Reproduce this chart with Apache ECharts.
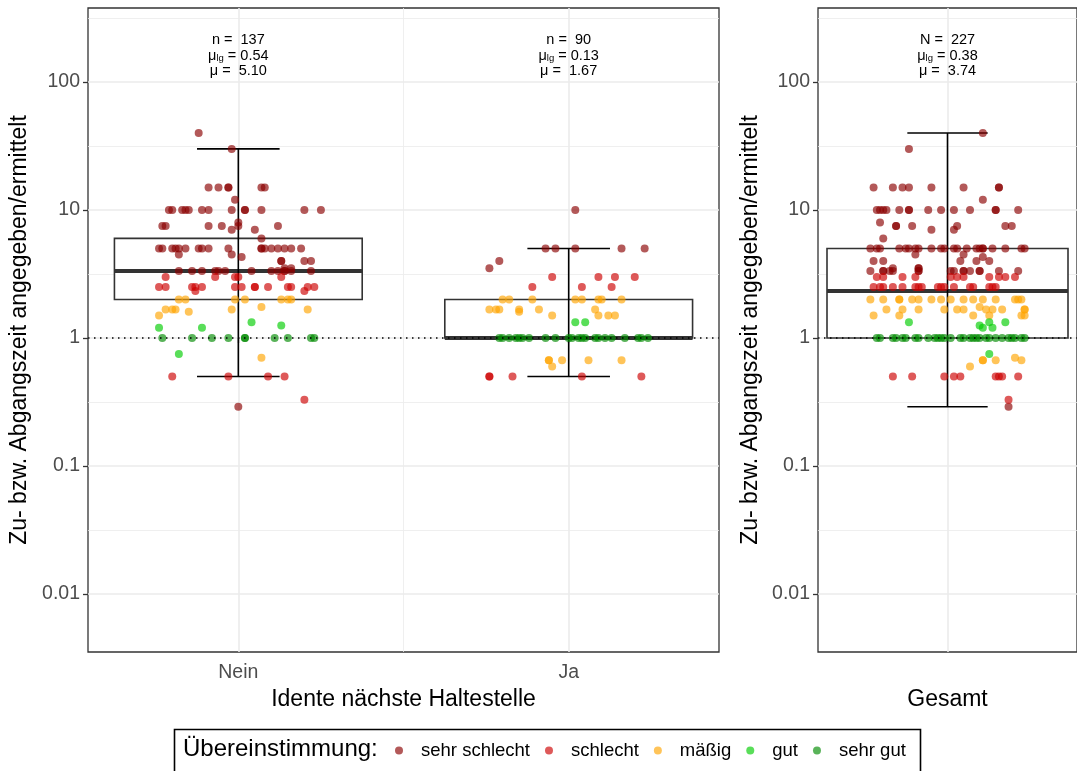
<!DOCTYPE html>
<html>
<head>
<meta charset="utf-8">
<script src="https://cdn.jsdelivr.net/npm/echarts@6/dist/echarts.min.js"></script>
<style>
  html, body { margin: 0; background: #fff; }
  #chart { width: 1077px; height: 771px; }
</style>
</head>
<body>
<div id="chart"></div>
<script>
const groups = ['Nein', 'Ja']
const classes = ['sehr schlecht', 'schlecht', 'mäßig', 'gut', 'sehr gut']
const classColors = ['#8B0000', '#CD0000', '#FFA500', '#00CC00', '#008B00']
const yTicks = [0.01, 0.1, 1, 10, 100]
const yTickLabels = ['0.01', '0.1', '1', '10', '100']
const yMinorTicks = [0.0316, 0.316, 3.16, 31.6, 316]
const refLine = 1

// box statistics: [untere Whisker, Q1, Median, Q3, obere Whisker]
const boxNein = [0.5, 2, 3.33, 6, 30]
const boxJa = [0.5, 1, 1, 2, 5]
const boxGesamt = [0.29, 1, 2.33, 5, 40]

const annN = ['n =  137', 'n =  90', 'N =  227']
const annMuLg = ['0.54', '0.13', '0.38']
const annMu = ['5.10', '1.67', '3.74']
const annAt = 160

// Punkte: [Jitter, Wert]
const neinSehrSchlecht = [
  [-0.12, 40], [-0.02, 30],
  [-0.09, 15], [-0.06, 15], [-0.03, 15], [-0.03, 15], [0.07, 15], [0.08, 15],
  [-0.01, 12],
  [-0.21, 10], [-0.20, 10], [-0.17, 10], [-0.16, 10], [-0.15, 10], [-0.11, 10], [-0.09, 10],
  [-0.02, 10], [0.02, 10], [0.02, 10], [0.07, 10], [0.20, 10], [0.25, 10],
  [0.00, 8],
  [-0.23, 7.5], [-0.22, 7.5], [-0.09, 7.5], [-0.05, 7.5], [0.12, 7.5], [0.00, 7.5],
  [-0.02, 7], [0.05, 7], [0.07, 6],
  [-0.24, 5], [-0.23, 5], [-0.20, 5], [-0.19, 5], [-0.18, 5], [-0.16, 5], [-0.12, 5], [-0.11, 5],
  [-0.09, 5], [-0.03, 5], [0.07, 5], [0.07, 5], [0.08, 5], [0.10, 5], [0.12, 5], [0.14, 5],
  [0.16, 5], [0.19, 5],
  [-0.18, 4.5], [-0.02, 4.5], [0.01, 4.3],
  [0.13, 4], [0.13, 4], [0.20, 4], [0.22, 4],
  [0.14, 3.5], [0.16, 3.5],
  [-0.18, 3.33], [-0.14, 3.33], [-0.11, 3.33], [-0.07, 3.33], [-0.06, 3.33], [-0.04, 3.33],
  [0.04, 3.33], [0.10, 3.33], [0.12, 3.33], [0.14, 3.33], [0.14, 3.33], [0.16, 3.33], [0.22, 3.33],
  [0.00, 0.29]
]
const neinSchlecht = [
  [-0.22, 3], [-0.07, 3], [-0.01, 3], [0.00, 3], [0.13, 3],
  [-0.24, 2.5], [-0.22, 2.5], [-0.14, 2.5], [-0.13, 2.5], [-0.11, 2.5], [-0.01, 2.5], [0.01, 2.5],
  [0.05, 2.5], [0.05, 2.5], [0.09, 2.5], [0.15, 2.5], [0.16, 2.5], [0.21, 2.5], [0.23, 2.5],
  [-0.13, 2.33], [0.20, 2.33],
  [-0.20, 0.5], [-0.03, 0.5], [0.09, 0.5], [0.14, 0.5],
  [0.20, 0.33]
]
const neinMaessig = [
  [-0.18, 2], [-0.16, 2], [-0.01, 2], [0.02, 2], [0.13, 2], [0.15, 2], [0.16, 2],
  [0.07, 1.75],
  [-0.22, 1.67], [-0.20, 1.67], [-0.19, 1.67], [-0.02, 1.67], [0.21, 1.67],
  [-0.15, 1.6], [-0.24, 1.5],
  [0.07, 0.7]
]
const neinGut = [[-0.24, 1.2], [-0.11, 1.2], [0.04, 1.33], [0.13, 1.25], [-0.18, 0.75]]
const neinSehrGut = [
  [-0.23, 1], [-0.14, 1], [-0.08, 1], [-0.03, 1], [0.02, 1], [0.02, 1], [0.11, 1], [0.15, 1],
  [0.22, 1], [0.23, 1]
]

const jaSehrSchlecht = [
  [0.02, 10], [-0.07, 5], [-0.04, 5], [0.02, 5], [0.16, 5], [0.23, 5], [-0.21, 4], [-0.24, 3.5]
]
const jaSchlecht = [
  [-0.05, 3], [0.09, 3], [0.14, 3], [0.20, 3], [-0.11, 2.5], [0.04, 2.5], [0.13, 2.5],
  [-0.24, 0.5], [-0.24, 0.5], [-0.17, 0.5], [0.04, 0.5], [0.22, 0.5]
]
const jaMaessig = [
  [-0.20, 2], [-0.18, 2], [-0.11, 2], [0.02, 2], [0.04, 2], [0.09, 2], [0.10, 2], [0.16, 2],
  [-0.24, 1.67], [-0.22, 1.67], [-0.21, 1.67], [-0.15, 1.67], [-0.09, 1.67], [0.08, 1.67],
  [-0.15, 1.6], [-0.05, 1.5], [0.09, 1.5], [0.12, 1.5], [0.14, 1.5],
  [-0.06, 0.67], [-0.06, 0.67], [-0.02, 0.67], [0.06, 0.67], [0.16, 0.67], [-0.05, 0.6]
]
const jaGut = [[0.02, 1.33], [0.05, 1.33]]
const jaSehrGut = [
  [-0.21, 1], [-0.20, 1], [-0.18, 1], [-0.16, 1], [-0.15, 1], [-0.14, 1], [-0.12, 1], [-0.07, 1],
  [-0.04, 1], [0.00, 1], [0.01, 1], [0.03, 1], [0.04, 1], [0.05, 1], [0.08, 1], [0.09, 1],
  [0.11, 1], [0.13, 1], [0.17, 1], [0.21, 1], [0.22, 1], [0.24, 1]
]

const gesSehrSchlecht = [
  [0.11, 40], [-0.12, 30],
  [-0.23, 15], [-0.17, 15], [-0.14, 15], [-0.12, 15], [-0.05, 15], [0.05, 15], [0.16, 15], [0.16, 15],
  [0.11, 12],
  [-0.22, 10], [-0.21, 10], [-0.20, 10], [-0.19, 10], [-0.15, 10], [-0.12, 10], [-0.12, 10],
  [-0.06, 10], [-0.02, 10], [0.02, 10], [0.07, 10], [0.15, 10], [0.15, 10], [0.22, 10],
  [-0.21, 8],
  [-0.16, 7.5], [-0.16, 7.5], [-0.11, 7.5], [0.03, 7.5], [0.18, 7.5], [0.20, 7.5],
  [-0.05, 7], [0.02, 7], [-0.20, 6],
  [-0.24, 5], [-0.22, 5], [-0.21, 5], [-0.15, 5], [-0.13, 5], [-0.12, 5], [-0.10, 5], [-0.09, 5],
  [-0.05, 5], [-0.02, 5], [-0.01, 5], [0.02, 5], [0.03, 5], [0.06, 5], [0.09, 5], [0.10, 5],
  [0.11, 5], [0.11, 5], [0.14, 5], [0.18, 5], [0.23, 5], [0.24, 5],
  [-0.10, 4.5], [0.05, 4.5], [0.11, 4.3],
  [-0.23, 4], [-0.20, 4], [0.04, 4], [0.09, 4], [0.13, 4],
  [-0.17, 3.5], [-0.09, 3.5], [-0.09, 3.5],
  [-0.24, 3.33], [-0.20, 3.33], [-0.20, 3.33], [-0.18, 3.33], [-0.17, 3.33], [-0.09, 3.33],
  [-0.09, 3.33], [0.01, 3.33], [0.02, 3.33], [0.05, 3.33], [0.05, 3.33], [0.07, 3.33],
  [0.10, 3.33], [0.10, 3.33], [0.16, 3.33], [0.22, 3.33],
  [0.19, 0.29]
]
const gesSchlecht = [
  [-0.22, 3], [-0.20, 3], [-0.14, 3], [-0.10, 3], [0.01, 3], [0.03, 3], [0.05, 3], [0.13, 3],
  [0.16, 3], [0.18, 3], [0.21, 3],
  [-0.23, 2.5], [-0.21, 2.5], [-0.20, 2.5], [-0.17, 2.5], [-0.14, 2.5], [-0.10, 2.5], [-0.09, 2.5],
  [-0.08, 2.5], [-0.03, 2.5], [-0.02, 2.5], [-0.01, 2.5], [0.02, 2.5], [0.07, 2.5], [0.08, 2.5],
  [0.13, 2.5], [0.14, 2.5], [0.15, 2.5],
  [-0.17, 0.5], [-0.11, 0.5], [-0.01, 0.5], [0.02, 0.5], [0.04, 0.5], [0.15, 0.5], [0.16, 0.5],
  [0.17, 0.5], [0.22, 0.5],
  [0.19, 0.33]
]
const gesMaessig = [
  [-0.24, 2], [-0.20, 2], [-0.15, 2], [-0.15, 2], [-0.11, 2], [-0.09, 2], [-0.05, 2], [-0.02, 2],
  [0.01, 2], [0.05, 2], [0.08, 2], [0.11, 2], [0.15, 2], [0.21, 2], [0.22, 2], [0.23, 2],
  [0.10, 1.75],
  [-0.19, 1.67], [-0.14, 1.67], [-0.09, 1.67], [-0.01, 1.67], [0.03, 1.67], [0.05, 1.67],
  [0.12, 1.67], [0.14, 1.67], [0.17, 1.67], [0.24, 1.67], [0.24, 1.67],
  [-0.23, 1.5], [-0.15, 1.5], [0.08, 1.5], [0.13, 1.5], [0.23, 1.5], [0.24, 1.5],
  [0.21, 0.7], [0.23, 0.67], [0.15, 0.67], [0.11, 0.67], [0.11, 0.67], [0.07, 0.6]
]
const gesGut = [[-0.12, 1.33], [0.13, 1.33], [0.18, 1.33], [0.10, 1.25], [0.11, 1.2], [0.14, 1.2], [0.13, 0.75]]
const gesSehrGut = [
  [-0.22, 1], [-0.21, 1], [-0.17, 1], [-0.16, 1], [-0.14, 1], [-0.13, 1], [-0.10, 1], [-0.09, 1],
  [-0.06, 1], [-0.04, 1], [-0.03, 1], [-0.02, 1], [-0.01, 1], [0.01, 1], [0.04, 1], [0.05, 1],
  [0.07, 1], [0.08, 1], [0.09, 1], [0.10, 1], [0.12, 1], [0.13, 1], [0.15, 1], [0.17, 1],
  [0.19, 1], [0.20, 1], [0.21, 1], [0.23, 1], [0.24, 1]
]

const font = 'Liberation Sans, Arial, sans-serif'
const lg = Math.log10
const yMin = -2.453
const yMax = 2.578

const chart = echarts.init(document.getElementById('chart'))

function tickLabel(v) {
  const i = yTicks.findIndex(t => Math.abs(lg(t) - v) < 1e-6)
  return i >= 0 ? yTickLabels[i] : ''
}

function yAxes(grid, withName) {
  return [
    {
      type: 'value', gridIndex: grid, min: yMin, max: yMax, position: 'left',
      axisLine: { show: false },
      axisTick: { show: true, customValues: yTicks.map(lg), length: 5, lineStyle: { color: '#333', width: 1.3 } },
      axisLabel: { customValues: yTicks.map(lg), formatter: tickLabel, color: '#4D4D4D', fontSize: 19.5, fontFamily: font, margin: 8 },
      splitLine: { show: true, lineStyle: { color: '#EBEBEB', width: 1.6 } },
      name: withName, nameLocation: 'middle', nameGap: 56,
      nameTextStyle: { color: '#000', fontSize: 23, fontFamily: font }
    },
    {
      type: 'value', gridIndex: grid, min: yMin, max: yMax, position: 'left',
      axisLine: { show: false },
      axisTick: { show: false, customValues: yMinorTicks.map(lg) },
      axisLabel: { show: false },
      splitLine: { show: true, lineStyle: { color: '#EBEBEB', width: 0.8 } }
    }
  ]
}

function renderBox(params, api) {
  const x = api.value(0)
  const q1 = api.coord([x, api.value(2)])
  const med = api.coord([x, api.value(3)])
  const q3 = api.coord([x, api.value(4)])
  const w = api.size([0.75, 0])[0]
  return {
    type: 'group',
    children: [
      { type: 'rect', shape: { x: q1[0] - w / 2, y: q3[1], width: w, height: q1[1] - q3[1] },
        style: { fill: '#fff', stroke: '#333', lineWidth: 1.6 } },
      { type: 'line', shape: { x1: med[0] - w / 2, y1: med[1], x2: med[0] + w / 2, y2: med[1] },
        style: { stroke: '#333', lineWidth: 4 } }
    ]
  }
}

function renderWhisker(params, api) {
  const x = api.value(0)
  const lo = api.coord([x, api.value(1)])
  const hi = api.coord([x, api.value(5)])
  const w = api.size([0.25, 0])[0]
  const st = { stroke: '#000', lineWidth: 1.6 }
  return {
    type: 'group',
    children: [
      { type: 'line', shape: { x1: lo[0], y1: lo[1], x2: hi[0], y2: hi[1] }, style: st },
      { type: 'line', shape: { x1: lo[0] - w / 2, y1: lo[1], x2: lo[0] + w / 2, y2: lo[1] }, style: st },
      { type: 'line', shape: { x1: hi[0] - w / 2, y1: hi[1], x2: hi[0] + w / 2, y2: hi[1] }, style: st }
    ]
  }
}

function boxRow(x, stats) {
  return [x].concat(stats.map(lg))
}

function points(center, arr) {
  return arr.map(p => [center + p[0], lg(p[1])])
}

const dotted = {
  silent: true, symbol: 'none', label: { show: false },
  lineStyle: { color: '#000', type: [1.5, 4.5], width: 1.6 },
  data: [{ yAxis: lg(refLine) }]
}

const neinSets = [neinSehrSchlecht, neinSchlecht, neinMaessig, neinGut, neinSehrGut]
const jaSets = [jaSehrSchlecht, jaSchlecht, jaMaessig, jaGut, jaSehrGut]
const gesSets = [gesSehrSchlecht, gesSchlecht, gesMaessig, gesGut, gesSehrGut]

const series = [
  { type: 'custom', xAxisIndex: 0, yAxisIndex: 0, renderItem: renderBox, silent: true,
    encode: { x: 0, y: [1, 2, 3, 4, 5] }, data: [boxRow(1, boxNein), boxRow(2, boxJa)] },
  { type: 'custom', xAxisIndex: 0, yAxisIndex: 0, renderItem: renderWhisker, silent: true,
    encode: { x: 0, y: [1, 2, 3, 4, 5] }, data: [boxRow(1, boxNein), boxRow(2, boxJa)] },
  { type: 'custom', xAxisIndex: 2, yAxisIndex: 2, renderItem: renderBox, silent: true,
    encode: { x: 0, y: [1, 2, 3, 4, 5] }, data: [boxRow(1, boxGesamt)] },
  { type: 'custom', xAxisIndex: 2, yAxisIndex: 2, renderItem: renderWhisker, silent: true,
    encode: { x: 0, y: [1, 2, 3, 4, 5] }, data: [boxRow(1, boxGesamt)] }
]

classes.forEach((name, i) => {
  series.push({
    type: 'scatter', name, xAxisIndex: 0, yAxisIndex: 0, symbolSize: 8,
    itemStyle: { color: classColors[i], opacity: 0.65 },
    data: points(1, neinSets[i]).concat(points(2, jaSets[i])),
    markLine: i === 4 ? dotted : undefined
  })
})
classes.forEach((name, i) => {
  series.push({
    type: 'scatter', name, xAxisIndex: 2, yAxisIndex: 2, symbolSize: 8,
    itemStyle: { color: classColors[i], opacity: 0.65 },
    data: points(1, gesSets[i]),
    markLine: i === 4 ? dotted : undefined
  })
})

const annRich = {
  a: { fontSize: 14.5, fontFamily: font, color: '#000', lineHeight: 15.5 },
  s: { fontSize: 9.5, fontFamily: font, color: '#000', lineHeight: 15.5, padding: [6, 0, 0, 0] }
}
function annText(i) {
  return '{a|' + annN[i] + '}\n{a|μ}{s|lg}{a| = ' + annMuLg[i] + '}\n{a|μ =  ' + annMu[i] + '}'
}
const annLabel = { show: true, position: 'inside', color: '#000', opacity: 1, rich: annRich }
series.push({
  type: 'scatter', xAxisIndex: 0, yAxisIndex: 0, symbolSize: 1, silent: true,
  itemStyle: { color: 'rgba(0,0,0,0)' },
  label: Object.assign({ formatter: p => annText(p.dataIndex) }, annLabel),
  data: [[1, lg(annAt)], [2, lg(annAt)]]
})
series.push({
  type: 'scatter', xAxisIndex: 2, yAxisIndex: 2, symbolSize: 1, silent: true,
  itemStyle: { color: 'rgba(0,0,0,0)' },
  label: Object.assign({ formatter: () => annText(2) }, annLabel),
  data: [[1, lg(annAt)]]
})

const option = {
  animation: false,
  backgroundColor: '#fff',
  grid: [
    { left: 88, top: 8, width: 631, height: 644, show: true, borderColor: '#333', borderWidth: 1.3, backgroundColor: '#fff' },
    { left: 818, top: 8, width: 266, height: 644, show: true, borderColor: '#333', borderWidth: 1.3, backgroundColor: '#fff' }
  ],
  xAxis: [
    {
      type: 'value', gridIndex: 0, min: 0.545, max: 2.455,
      axisLine: { show: false },
      axisTick: { show: true, customValues: [1, 2], length: 5, lineStyle: { color: '#333', width: 1.3 } },
      axisLabel: { customValues: [1, 2], formatter: v => groups[Math.round(v) - 1], color: '#4D4D4D', fontSize: 19.5, fontFamily: font, margin: 11 },
      splitLine: { show: true, lineStyle: { color: '#EBEBEB', width: 1.6 } },
      name: 'Idente nächste Haltestelle', nameLocation: 'middle', nameGap: 36,
      nameTextStyle: { color: '#000', fontSize: 23, fontFamily: font }
    },
    {
      type: 'value', gridIndex: 0, min: 0.545, max: 2.455,
      axisLine: { show: false },
      axisTick: { show: false, customValues: [1.5] },
      axisLabel: { show: false },
      splitLine: { show: true, lineStyle: { color: '#EBEBEB', width: 0.8 } }
    },
    {
      type: 'value', gridIndex: 1, min: 0.597, max: 1.403,
      axisLine: { show: false },
      axisTick: { show: true, customValues: [1], length: 5, lineStyle: { color: '#333', width: 1.3 } },
      axisLabel: { customValues: [1], formatter: () => ' ', color: '#4D4D4D', fontSize: 19.5, fontFamily: font, margin: 11 },
      splitLine: { show: true, lineStyle: { color: '#EBEBEB', width: 1.6 } },
      name: 'Gesamt', nameLocation: 'middle', nameGap: 36,
      nameTextStyle: { color: '#000', fontSize: 23, fontFamily: font }
    }
  ],
  yAxis: yAxes(0, 'Zu- bzw. Abgangszeit angegeben/ermittelt').concat(yAxes(1, 'Zu- bzw. Abgangszeit angegeben/ermittelt')),
  legend: {
    data: classes, left: 390, top: 736, icon: 'circle', itemWidth: 34, itemHeight: 8, itemGap: 15,
    selectedMode: false,
    textStyle: { color: '#000', fontSize: 18.5, fontFamily: font }
  },
  graphic: [
    { type: 'rect', left: 172, top: 727, shape: { width: 746, height: 60 },
      style: { fill: 'none', stroke: '#000', lineWidth: 1.6 } },
    { type: 'text', left: 183, top: 737,
      style: { text: 'Übereinstimmung:', fill: '#000', fontSize: 24, fontFamily: font } }
  ],
  series
}

chart.setOption(option)
</script>
</body>
</html>
